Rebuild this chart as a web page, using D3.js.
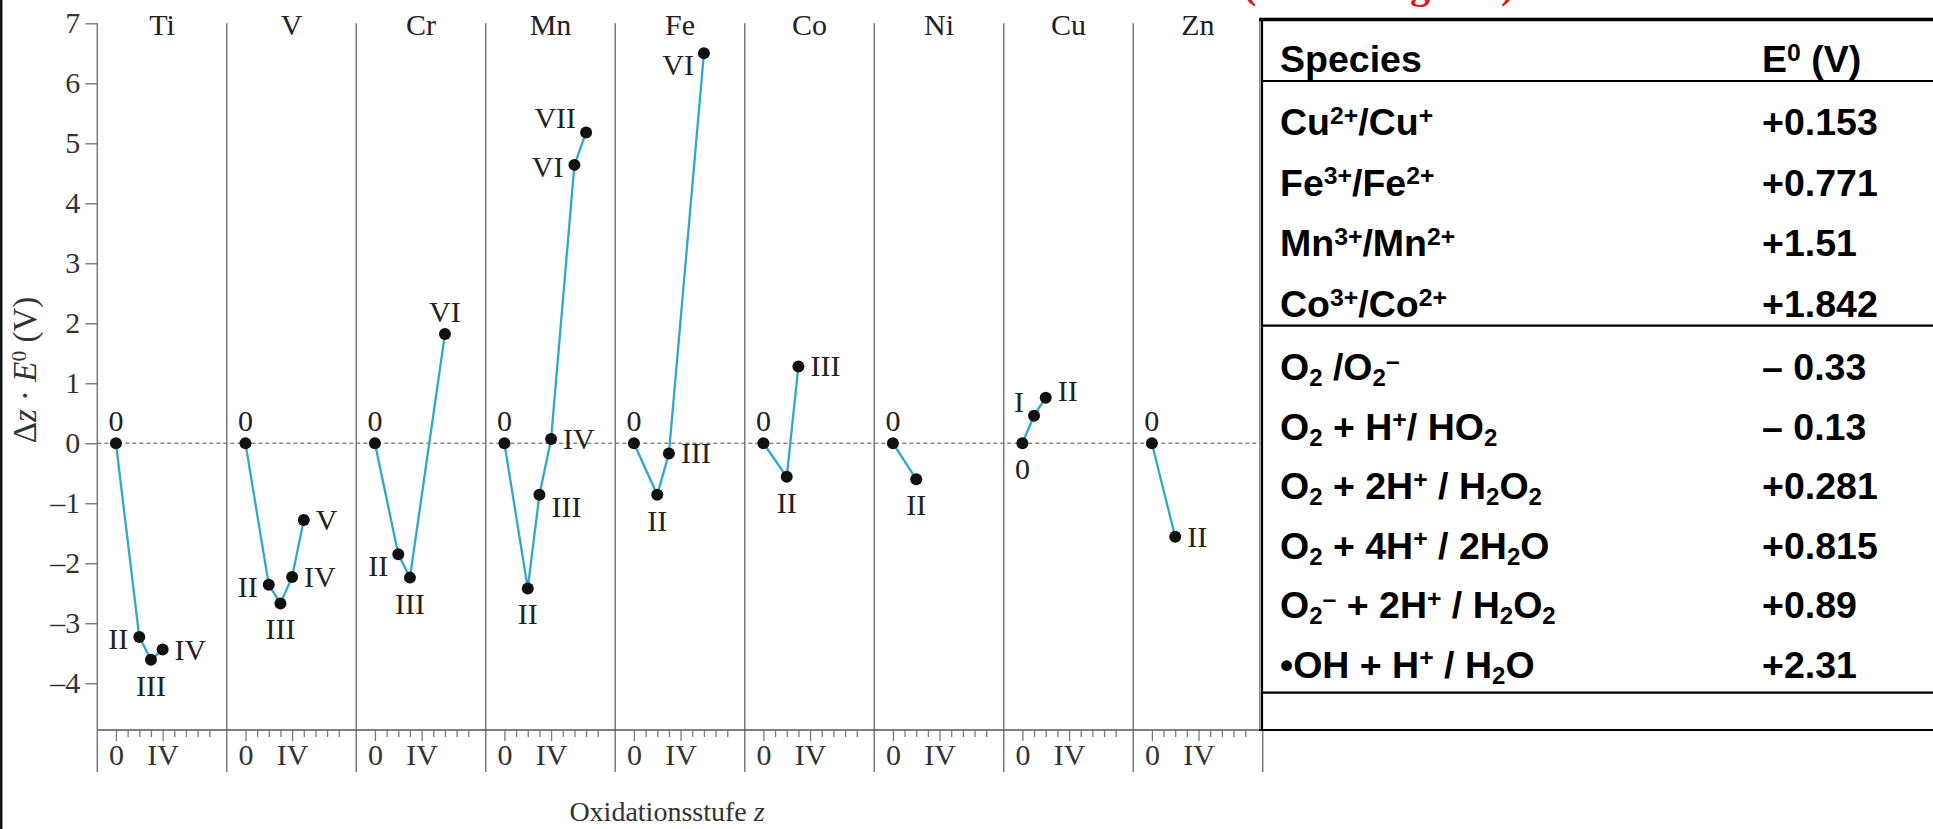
<!DOCTYPE html>
<html>
<head>
<meta charset="utf-8">
<script src="https://cdn.jsdelivr.net/npm/d3@7"></script>
<style>
  html, body { margin: 0; padding: 0; background: #fff; }
  svg { display: block; }
</style>
</head>
<body>
<svg id="chart" width="1933" height="829"></svg>
<script>
// ---------------- DATA ----------------
const elements = ["Ti", "V", "Cr", "Mn", "Fe", "Co", "Ni", "Cu", "Zn"];
const oxidationStates = [
  [0, 2, 3, 4],
  [0, 2, 3, 4, 5],
  [0, 2, 3, 6],
  [0, 2, 3, 4, 6, 7],
  [0, 2, 3, 6],
  [0, 2, 3],
  [0, 2],
  [0, 1, 2],
  [0, 2]
];
const zE0Values = [
  [0, -3.23, -3.61, -3.44],
  [0, -2.36, -2.67, -2.23, -1.28],
  [0, -1.85, -2.24, 1.82],
  [0, -2.42, -0.86, 0.07, 4.64, 5.18],
  [0, -0.86, -0.17, 6.50],
  [0, -0.56, 1.28],
  [0, -0.60],
  [0, 0.46, 0.76],
  [0, -1.56]
];
const labelSides = [
  ["t", "l", "b", "r"],
  ["t", "l", "b", "r", "r"],
  ["t", "lb", "b", "t"],
  ["t", "b", "rb", "r", "l", "tl"],
  ["t", "b", "r", "lb"],
  ["t", "b", "r"],
  ["t", "b"],
  ["b", "tl", "tr"],
  ["t", "r"]
];
const romanNumerals = ["0", "I", "II", "III", "IV", "V", "VI", "VII", "VIII"];
const yTickValues = [-4, -3, -2, -1, 0, 1, 2, 3, 4, 5, 6, 7];
const xMajorTicks = [0, 4];
const xMajorLabels = ["0", "IV"];
const xMinorTicks = [1, 2, 3, 5, 6, 7, 8];
const yAxisTitle = [["Δ", ""], ["z", "i"], [" · ", ""], ["E", "i"], ["0", "sup"], [" (V)", ""]];
const xAxisTitle = [["Oxidationsstufe ", ""], ["z", "i"]];

const tableHeader = [[["Species", ""]], [["E", ""], ["0", "sup"], [" (V)", ""]]];
const metalCouples = [
  [["Cu", ""], ["2+", "sup"], ["/Cu", ""], ["+", "sup"]],
  [["Fe", ""], ["3+", "sup"], ["/Fe", ""], ["2+", "sup"]],
  [["Mn", ""], ["3+", "sup"], ["/Mn", ""], ["2+", "sup"]],
  [["Co", ""], ["3+", "sup"], ["/Co", ""], ["2+", "sup"]]
];
const metalE0 = ["+0.153", "+0.771", "+1.51", "+1.842"];
const oxygenCouples = [
  [["O", ""], ["2", "sub"], [" /O", ""], ["2", "sub"], ["\u2013", "sup"]],
  [["O", ""], ["2", "sub"], [" + H", ""], ["+", "sup"], ["/ HO", ""], ["2", "sub"]],
  [["O", ""], ["2", "sub"], [" + 2H", ""], ["+", "sup"], [" / H", ""], ["2", "sub"], ["O", ""], ["2", "sub"]],
  [["O", ""], ["2", "sub"], [" + 4H", ""], ["+", "sup"], [" / 2H", ""], ["2", "sub"], ["O", ""]],
  [["O", ""], ["2", "sub"], ["\u2013", "sup"], [" + 2H", ""], ["+", "sup"], [" / H", ""], ["2", "sub"], ["O", ""], ["2", "sub"]],
  [["\u2022OH + H", ""], ["+", "sup"], [" / H", ""], ["2", "sub"], ["O", ""]]
];
const oxygenE0 = ["\u2013 0.33", "\u2013 0.13", "+0.281", "+0.815", "+0.89", "+2.31"];
const topNote = "(Frost diagram)";

// ---------------- LAYOUT ----------------
const W = 1933, H = 829;
const plotLeft = 97.3, plotRight = 1262.7;
const plotTop = 23.3, plotBottom = 730, lineBottom = 772;
const serif = "'Liberation Serif', 'Times New Roman', serif";
const sans = "'Liberation Sans', Arial, sans-serif";
const gridColor = "#7a7a7a";
const lineColor = "#2fa8cd";
const chartFont = 30;

const svg = d3.select("#chart");
svg.append("rect").attr("width", W).attr("height", H).attr("fill", "#fff");

const y = d3.scaleLinear().domain([-4.78, 7]).range([plotBottom, plotTop]);
const panel = d3.scaleBand().domain(elements).range([plotLeft, plotRight]).padding(0);
const xs = d3.scaleLinear().domain([-1.6, 9.5]).range([0, panel.bandwidth()]);

// rich text helper
function richText(sel, parts, baseSize) {
  let shift = 0;
  parts.forEach(([txt, kind]) => {
    const t = sel.append("tspan").text(txt);
    let target = 0;
    if (kind === "sup") { target = -baseSize * 0.3; t.attr("font-size", baseSize * 0.66); }
    else if (kind === "sub") { target = baseSize * 0.17; t.attr("font-size", baseSize * 0.64); }
    else if (kind === "i") { t.attr("font-style", "italic"); }
    t.attr("dy", target - shift);
    shift = target;
  });
  if (shift !== 0) sel.append("tspan").attr("dy", -shift).text("");
}

// left frame line
svg.append("line").attr("x1", 1.2).attr("x2", 1.2).attr("y1", 0).attr("y2", H)
  .attr("stroke", "#111").attr("stroke-width", 2.5);

// top red note (cut off at top edge as in the source)
svg.append("text").attr("x", 1243).attr("y", -2)
  .attr("font-family", serif).attr("font-weight", "bold").attr("font-size", 40)
  .attr("fill", "#e0141e").text(topNote);

// zero dashed line
svg.append("line").attr("x1", plotLeft).attr("x2", plotRight)
  .attr("y1", y(0)).attr("y2", y(0))
  .attr("stroke", "#8a8a8a").attr("stroke-width", 1.4).attr("stroke-dasharray", "4,3");

// panel separators + right boundary
elements.forEach((e, i) => {
  if (i === 0) return;
  svg.append("line").attr("x1", panel(e)).attr("x2", panel(e))
    .attr("y1", plotTop).attr("y2", lineBottom)
    .attr("stroke", gridColor).attr("stroke-width", 1.5);
});
svg.append("line").attr("x1", plotRight).attr("x2", plotRight)
  .attr("y1", plotTop).attr("y2", lineBottom)
  .attr("stroke", gridColor).attr("stroke-width", 1.5);

// y axis
svg.append("line").attr("x1", plotLeft).attr("x2", plotLeft)
  .attr("y1", plotTop).attr("y2", lineBottom)
  .attr("stroke", gridColor).attr("stroke-width", 1.5);
const yAxis = svg.append("g").attr("transform", `translate(${plotLeft},0)`)
  .call(d3.axisLeft(y).tickValues(yTickValues).tickSize(12).tickPadding(5)
    .tickFormat(d => (d < 0 ? "\u2013" + Math.abs(d) : String(d))));
yAxis.select(".domain").remove();
yAxis.selectAll("line").attr("stroke", gridColor).attr("stroke-width", 1.4);
yAxis.selectAll("text").attr("font-family", serif).attr("font-size", chartFont).attr("fill", "#333");

// x axis line
svg.append("line").attr("x1", plotLeft).attr("x2", plotRight)
  .attr("y1", plotBottom).attr("y2", plotBottom)
  .attr("stroke", "#555").attr("stroke-width", 1.6);

// per-panel x ticks
elements.forEach(e => {
  const g = svg.append("g").attr("transform", `translate(${panel(e)},${plotBottom})`);
  const minor = g.append("g").call(d3.axisBottom(xs).tickValues(xMinorTicks).tickSize(7).tickFormat(""));
  const major = g.append("g").call(d3.axisBottom(xs).tickValues(xMajorTicks).tickSize(11).tickPadding(3)
    .tickFormat((d, i) => xMajorLabels[i]));
  [minor, major].forEach(a => {
    a.select(".domain").remove();
    a.selectAll("line").attr("stroke", gridColor).attr("stroke-width", 1.3);
  });
  major.selectAll("text").attr("font-family", serif).attr("font-size", chartFont).attr("fill", "#333");
});

// element names
svg.append("g").selectAll("text").data(elements).join("text")
  .attr("x", d => panel(d) + panel.bandwidth() / 2).attr("y", 35)
  .attr("text-anchor", "middle").attr("font-family", serif).attr("font-size", chartFont)
  .attr("fill", "#222").text(d => d);

// lines, points, labels
const labelPos = {
  t:  { dx: 0,   dy: -12, a: "middle" },
  b:  { dx: 0,   dy: 36,  a: "middle" },
  l:  { dx: -11, dy: 12,  a: "end" },
  r:  { dx: 12,  dy: 10,  a: "start" },
  lb: { dx: -10, dy: 22,  a: "end" },
  rb: { dx: 12,  dy: 22,  a: "start" },
  tl: { dx: -10, dy: -4,  a: "end" },
  tr: { dx: 12,  dy: 3,   a: "start" }
};
elements.forEach((e, i) => {
  const pts = oxidationStates[i].map((s, j) => ({ s, v: zE0Values[i][j], side: labelSides[i][j] }));
  const g = svg.append("g").attr("transform", `translate(${panel(e)},0)`);
  const line = d3.line().x(d => xs(d.s)).y(d => y(d.v));
  g.append("path").datum(pts).attr("d", line).attr("fill", "none")
    .attr("stroke", lineColor).attr("stroke-width", 2.3);
  g.selectAll("circle").data(pts).join("circle")
    .attr("cx", d => xs(d.s)).attr("cy", d => y(d.v)).attr("r", 6).attr("fill", "#111");
  g.selectAll("text").data(pts).join("text")
    .attr("x", d => xs(d.s) + labelPos[d.side].dx)
    .attr("y", d => y(d.v) + labelPos[d.side].dy)
    .attr("text-anchor", d => labelPos[d.side].a)
    .attr("font-family", serif).attr("font-size", chartFont).attr("fill", "#222")
    .text(d => romanNumerals[d.s]);
});

// axis titles
const yt = svg.append("text").attr("transform", "translate(36,370) rotate(-90)")
  .attr("text-anchor", "middle").attr("font-family", serif).attr("font-size", 33).attr("fill", "#333");
richText(yt, yAxisTitle, 33);
const xt = svg.append("text").attr("x", 667).attr("y", 821)
  .attr("text-anchor", "middle").attr("font-family", serif).attr("font-size", 28).attr("fill", "#333");
richText(xt, xAxisTitle, 28);

// ---------------- TABLE ----------------
const tLeft = 1262, tTop = 19.5, tBottom = 730;
const colSpecies = 1280, colE0 = 1762, tFont = 37.5;
const tbl = svg.append("g");
tbl.append("rect").attr("x", tLeft).attr("y", tTop).attr("width", W - tLeft + 5).attr("height", tBottom - tTop)
  .attr("fill", "#fff");
// borders
tbl.append("line").attr("x1", tLeft - 2.2).attr("x2", tLeft - 2.2).attr("y1", tTop).attr("y2", tBottom)
  .attr("stroke", "#888").attr("stroke-width", 1.5);
tbl.append("line").attr("x1", tLeft).attr("x2", tLeft).attr("y1", tTop - 1.5).attr("y2", tBottom + 1)
  .attr("stroke", "#000").attr("stroke-width", 2.2);
tbl.append("line").attr("x1", tLeft - 3).attr("x2", W).attr("y1", tTop).attr("y2", tTop)
  .attr("stroke", "#000").attr("stroke-width", 3.5);
tbl.append("line").attr("x1", tLeft - 3).attr("x2", W).attr("y1", tBottom).attr("y2", tBottom)
  .attr("stroke", "#000").attr("stroke-width", 2.2);
[81, 325.7, 692.7].forEach(yy => {
  tbl.append("line").attr("x1", tLeft).attr("x2", W).attr("y1", yy).attr("y2", yy)
    .attr("stroke", "#000").attr("stroke-width", 2.2);
});
function tCell(x, yy, parts) {
  const t = tbl.append("text").attr("x", x).attr("y", yy)
    .attr("font-family", sans).attr("font-weight", "bold").attr("font-size", tFont).attr("fill", "#000");
  richText(t, parts, tFont);
}
tCell(colSpecies, 72, tableHeader[0]);
tCell(colE0, 72, tableHeader[1]);
metalCouples.forEach((p, i) => {
  const yy = 135 + i * 60.6;
  tCell(colSpecies, yy, p);
  tCell(colE0, yy, [[metalE0[i], ""]]);
});
oxygenCouples.forEach((p, i) => {
  const yy = 380 + i * 59.5;
  tCell(colSpecies, yy, p);
  tCell(colE0, yy, [[oxygenE0[i], ""]]);
});
</script>
</body>
</html>
